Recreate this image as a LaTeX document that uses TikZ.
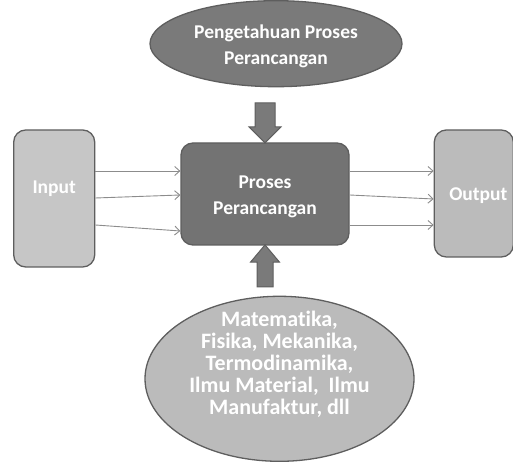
\documentclass[tikz,border=0pt]{standalone}
\usepackage{fontspec}
\setmainfont{Carlito}[Ligatures=NoCommon]
\usetikzlibrary{positioning,arrows.meta,shapes.geometric,shapes.arrows,calc}
\definecolor{PRDark}{HTML}{7A7A7A}
\definecolor{PRCore}{HTML}{737373}
\definecolor{PRLight}{HTML}{C6C6C6}
\definecolor{PRMid}{HTML}{BBBBBB}
\definecolor{PREdge}{HTML}{5E5E5E}
\definecolor{PRLine}{HTML}{8C8C8C}
\newcommand{\prlift}[2]{\raisebox{#1}[\height][\depth]{#2}}
\tikzset{
  prtext/.style={
    text=white,
    font=\fontsize{19.5}{26}\selectfont\bfseries,
    align=center
  },
  prbox/.style={
    prtext,
    rectangle,
    rounded corners=12pt,
    draw=PREdge,
    line width=1.3pt,
    inner sep=0pt
  },
  prcore/.style={prbox,fill=PRCore},
  prside/.style={prbox,fill=PRLight},
  proval/.style={
    prtext,
    ellipse,
    draw=PREdge,
    line width=1.3pt,
    inner sep=0pt
  },
  prarrow/.style={-{Straight Barb[length=5pt,width=9pt]},line width=0.9pt,draw=PRLine},
  prblock/.style={
    single arrow,
    draw=PREdge,
    fill=PRDark,
    line width=1pt,
    inner xsep=0pt,
    inner ysep=9.5pt,
    single arrow head extend=6pt,
    single arrow tip angle=90
  },
}

\begin{document}
\begin{tikzpicture}[x=1pt,y=1pt]
  \useasboundingbox (0,0) rectangle (513,465);

  \node[prcore,minimum width=168pt,minimum height=102pt] (proc) at (265,271)
    {\prlift{-2.5pt}{\begin{tabular}{@{}c@{}}Proses\\Perancangan\end{tabular}}};
  \node[proval,fill=PRDark,above=55pt of proc,xshift=11pt,
    minimum width=252pt,minimum height=86pt] (know)
    {\prlift{-2.5pt}{\begin{tabular}{@{}c@{}}Pengetahuan Proses\\Perancangan\end{tabular}}};
  \node[prside,left=85pt of proc,yshift=-4.5pt,
    minimum width=81pt,minimum height=137pt] (input) {\prlift{9.5pt}{Input}};
  \node[prside,fill=PRMid,right=84pt of proc,yshift=0.5pt,
    minimum width=79pt,minimum height=127pt] (output) {\prlift{-2.5pt}{\hspace*{9pt}Output}};
  \node[proval,fill=PRMid,below=50pt of proc,xshift=14.5pt,
    minimum width=269pt,minimum height=165pt,
    font=\fontsize{22}{21.7}\selectfont\bfseries] (basic)
    {\prlift{13pt}{\begin{tabular}{@{}c@{}}
      Matematika,\\Fisika, Mekanika,\\Termodinamika,\\Ilmu Material,\ \ Ilmu\\Manufaktur, dll
    \end{tabular}}};

  \node[prblock,rotate=-90,minimum height=40pt,minimum width=31pt,xshift=3pt] (downarr)
    at ($(proc.north |- know.south)!0.5!(proc.north)$) {};
  \node[prblock,rotate=90,minimum height=42pt,minimum width=28pt,inner ysep=7.5pt,
    single arrow head extend=6.5pt,single arrow tip angle=80] (uparr)
    at ($(proc.south |- basic.north)!0.5!(proc.south)$) {};

  \foreach \fromY/\toY in {27.5/23,0.5/-1,-26.5/-37}
    \draw[prarrow] ([yshift=\fromY pt]input.east) -- ([yshift=\toY pt]proc.west);
  \foreach \fromY/\toY in {23/22.5,-1/-5.5,-31/-31.5}
    \draw[prarrow] ([yshift=\fromY pt]proc.east) -- ([yshift=\toY pt]output.west);
\end{tikzpicture}
\end{document}
